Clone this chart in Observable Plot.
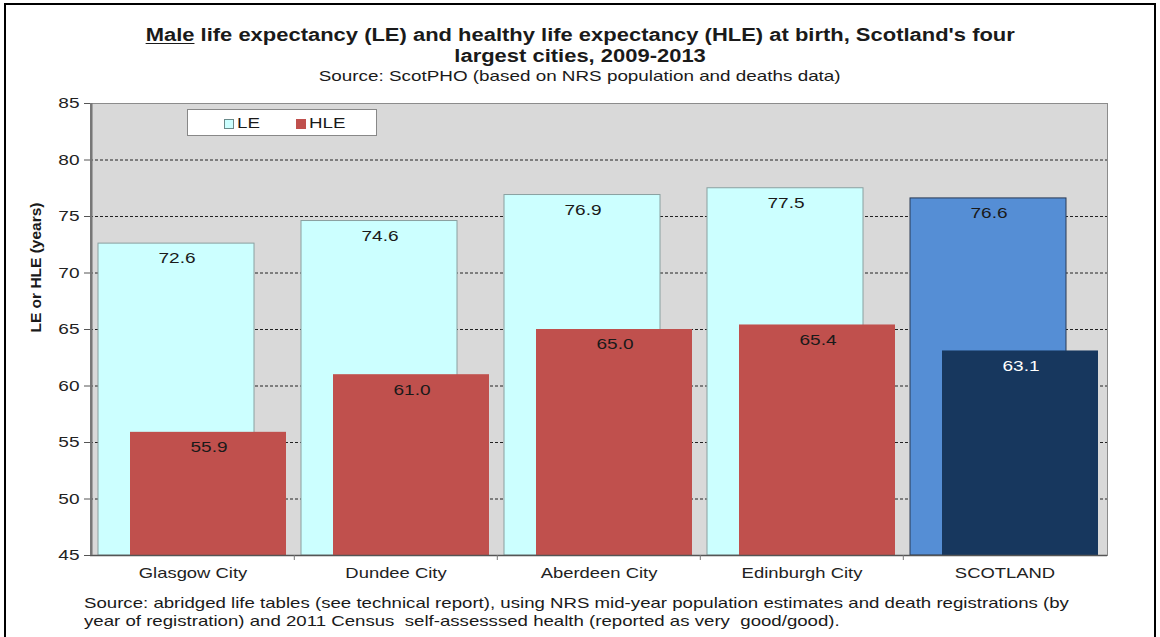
<!DOCTYPE html>
<html><head><meta charset="utf-8">
<script src="https://cdn.jsdelivr.net/npm/d3@7"></script>
<script src="https://cdn.jsdelivr.net/npm/@observablehq/plot@0.6"></script>
<style>
body{margin:0;background:#fff;font-family:"Liberation Sans",Arial,sans-serif;color:#1a1a1a;}
#page{position:relative;width:1160px;height:637px;overflow:hidden;}
#frame{position:absolute;left:4px;top:3px;width:1148px;height:700px;border:2px solid #000;}
.line{position:absolute;left:0;width:1160px;text-align:center;}
.line span{display:inline-block;transform-origin:center;}
#t1,#t2{font-weight:bold;font-size:18px;}
#t1 span,#t2 span{transform:scaleX(1.22);}
#t1{top:25px;} #t2{top:46px;}
#t1 u{text-decoration-thickness:1px;text-underline-offset:2px;}
#sub{top:68px;font-size:14.5px;}
#sub span{transform:scaleX(1.3);}
#chart{position:absolute;left:0;top:90px;}
#legend{position:absolute;left:187px;top:109px;width:188px;height:25px;background:#fff;border:1px solid #888;font-size:15px;}
#legend .sw{position:absolute;top:9px;width:8px;height:8px;}
#legend .lb{position:absolute;top:4px;transform:scaleX(1.25);transform-origin:left;}
.foot{position:absolute;left:84px;font-size:14.5px;transform:scaleX(1.285);transform-origin:left;white-space:nowrap;}
</style></head>
<body>
<div id="page">
<div id="frame"></div>
<div class="line" id="t1"><span><u>Male</u> life expectancy (LE) and healthy life expectancy (HLE) at birth, Scotland's four</span></div>
<div class="line" id="t2"><span>largest cities, 2009-2013</span></div>
<div class="line" id="sub"><span>Source: ScotPHO (based on NRS population and deaths data)</span></div>
<div id="chart"></div>
<div id="legend">
  <span class="sw" style="left:36px;background:#ccffff;border:1px solid #6a8a8a"></span><span class="lb" style="left:49px">LE</span>
  <span class="sw" style="left:108px;background:#c0504d;border:1px solid #c0504d"></span><span class="lb" style="left:121px">HLE</span>
</div>
<div class="foot" style="top:595px">Source: abridged life tables (see technical report), using NRS mid-year population estimates and death registrations (by</div>
<div class="foot" style="top:613px">year of registration) and 2011 Census&nbsp; self-assesssed health (reported as very&nbsp; good/good).</div>
</div>
<script>
const categories = ["Glasgow City","Dundee City","Aberdeen City","Edinburgh City","SCOTLAND"];
const leValues = [72.6,74.6,76.9,77.5,76.6];
const hleValues = [55.9,61.0,65.0,65.4,63.1];
const yTicks = [45,50,55,60,65,70,75,80,85];
const yLabel = "LE or HLE (years)";

const rows = categories.map((c,i)=>({category:c, le:leValues[i], hle:hleValues[i], national:c==="SCOTLAND"}));
const yMin = yTicks[0];
const yMax = yTicks[yTicks.length-1];
const halfBand = (1160-90-53)/categories.length/2;

const chart = Plot.plot({
  width:1160, height:505,
  marginTop:13, marginBottom:40, marginLeft:90, marginRight:53,
  x:{type:"band", domain:categories, padding:0, label:null},
  y:{domain:[yMin, yMax], label:null},
  style:{fontFamily:"'Liberation Sans', Arial, sans-serif", fontSize:"15px", color:"#222", background:"transparent", overflow:"visible"},
  marks:[
    Plot.frame({fill:"#d9d9d9", stroke:"#8c8c8c"}),
    Plot.ruleY(yTicks.slice(1,-1), {stroke:"#222", strokeDasharray:"3,2", strokeWidth:1}),
    Plot.barY(rows, {x:"category", y1:yMin, y2:"le", insetLeft:7, insetRight:40,
      fill:d=>d.national?"#558ed5":"#ccffff", stroke:d=>d.national?"#2a3a55":"#8aa0a0", strokeWidth:1}),
    Plot.barY(rows, {x:"category", y1:yMin, y2:"hle", insetLeft:39, insetRight:8,
      fill:d=>d.national?"#17375e":"#c0504d"}),
    Plot.text(rows, {x:"category", y:"le", text:d=>d.le.toFixed(1), dx:-16, dy:15, fill:"#1a1a1a", fontSize:15}),
    Plot.text(rows, {x:"category", y:"hle", text:d=>d.hle.toFixed(1), dx:16, dy:15, fill:d=>d.national?"#ffffff":"#1a1a1a", fontSize:15}),
    Plot.ruleY([yMin], {stroke:"#555", strokeWidth:1.5}),
    Plot.ruleX(categories.slice(1), {x:d=>d, dx:-halfBand, y1:yMin, y2:yMin, insetBottom:-5, stroke:"#777"}),
    Plot.ruleX([categories[0]], {x:d=>d, dx:-halfBand, y1:yMin, y2:yMax, stroke:"#777", strokeWidth:2.5}),
    Plot.axisY({ticks:yTicks, tickSize:6, tickPadding:5, stroke:"#555", label:null}),
    Plot.axisX({tickSize:0, tickPadding:12, label:null, fontSize:14.5}),
    Plot.text([yLabel], {frameAnchor:"left", dx:-54, dy:-62, rotate:-90, textAnchor:"middle", fontWeight:"bold", fontSize:15.5, fill:"#1a1a1a"})
  ]
});
document.getElementById("chart").appendChild(chart);
// the reference picture is stretched horizontally: widen upright text to match
chart.querySelectorAll("text").forEach(t=>{
  const tr = t.getAttribute("transform")||"";
  if (tr.includes("rotate")) return;
  const len = t.getComputedTextLength();
  if (len > 0) {
    t.setAttribute("textLength", len*1.27);
    t.setAttribute("lengthAdjust", "spacingAndGlyphs");
  }
});
</script>
</body></html>
